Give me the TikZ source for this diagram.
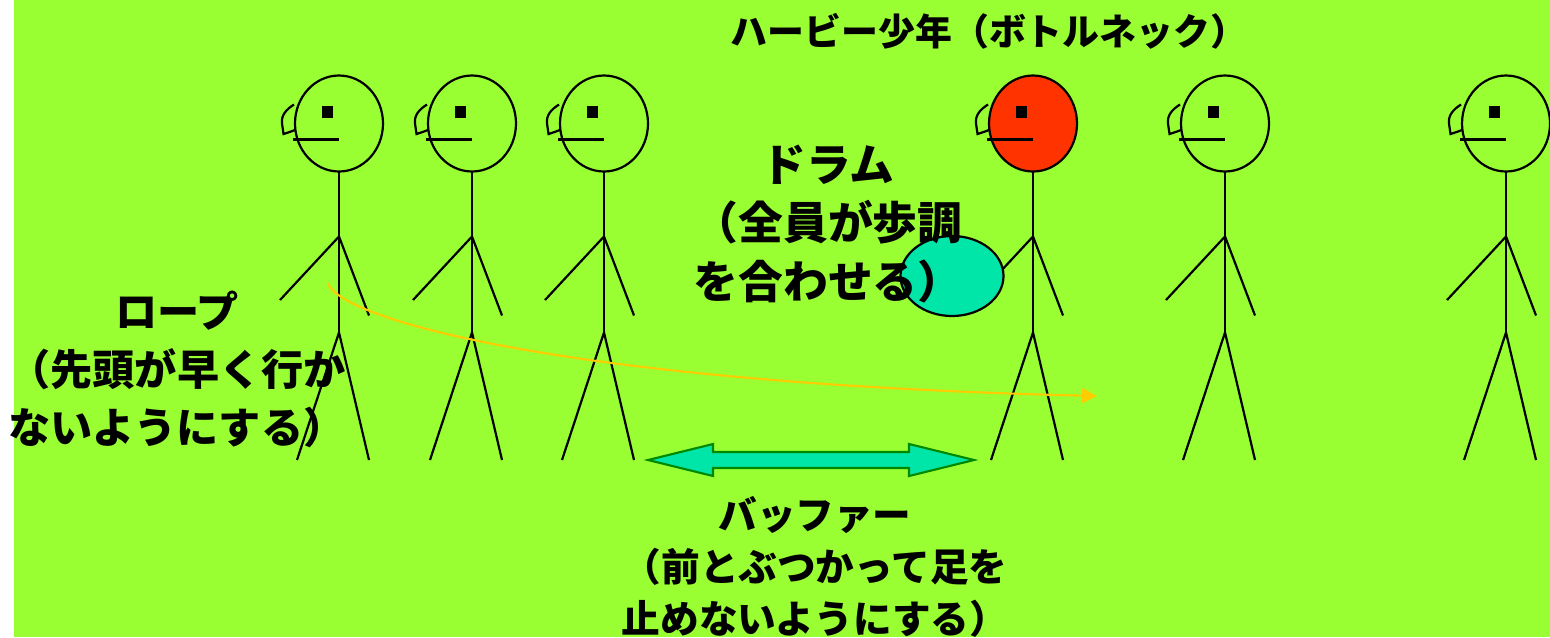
\documentclass[tikz,border=0pt]{standalone}
\usepackage{fontspec}
\newfontfamily\jpfont{Noto Sans CJK JP}
\usetikzlibrary{arrows.meta}

\definecolor{lawn}{RGB}{153,255,51}
\definecolor{drumfill}{RGB}{0,229,168}
\definecolor{herbie}{RGB}{255,51,0}
\definecolor{ropeline}{RGB}{255,204,0}
\definecolor{bufedge}{RGB}{0,136,0}

\tikzset{
  stick/.style={line width=1.25pt},
  jptext/.style={font=\jpfont\bfseries, align=center, inner sep=0pt},
  % one walker, origin at the centre of the head
  pics/walker/.style={code={
    \draw[stick,fill=#1] (0,0) ellipse (44 and 48);
    \fill (-17,-17.5) rectangle (-6,-6);
    \draw[stick] (-46,16) -- (0,16);
    \draw[stick] (-45,-19) .. controls (-53,-14) and (-58,-8) .. (-57,0)
      -- (-55.5,10.5) -- (-48,8) -- (-44,6.5);
    \draw[stick] (0,48) -- (0,209);
    \draw[stick] (-59,176.5) -- (0,113) -- (30,192);
    \draw[stick] (-42,336.5) -- (0,209) -- (30,336.5);
  }}
}

\begin{document}
\begin{tikzpicture}[x=0.02cm,y=-0.02cm]
\fill[white] (0,0) rectangle (1550,637);
\fill[lawn] (14,0) rectangle (1550,637);
\useasboundingbox (0,0) rectangle (1550,637);

% the troop
\foreach \px in {339,472,604,1225,1506}
  \pic at (\px,123.5) {walker=none};
\pic at (1033,123.5) {walker=herbie};

% drum
\draw[stick,fill=drumfill] (952,276) ellipse (51.5 and 40);

% rope
\coordinate (rope-start) at (328,283);
\coordinate (rope-end) at (1097,396);
\draw[ropeline,line width=1.2pt,-{Triangle[length=8.5pt,width=8.5pt]}]
  (rope-start) .. controls (338,318) and (560,383) .. (rope-end);

% buffer
\coordinate (buf-l) at (648,460);
\coordinate (buf-r) at (974,460);
\draw[bufedge,line width=1.2pt,fill=drumfill,line join=miter]
  (buf-l) -- (713,444) -- (713,452) -- (909,452) -- (909,444) -- (buf-r)
  -- (909,476) -- (909,468) -- (713,468) -- (713,476) -- cycle;

\node[jptext,font=\jpfont\bfseries\fontsize{21pt}{26pt}\selectfont] (title) at (989,31)
  {ハービー少年（ボトルネック）};
\node[jptext,font=\jpfont\bfseries\fontsize{25.5pt}{33.5pt}\selectfont] (drum) at (828,224)
  {ドラム\\（全員が歩調\\を合わせる）};
\node[jptext,font=\jpfont\bfseries\fontsize{24pt}{33pt}\selectfont] (rope) at (177,369)
  {ロープ\\（先頭が早く行か\\ないようにする）};
\node[jptext,font=\jpfont\bfseries\fontsize{22pt}{29.5pt}\selectfont] (buffer) at (815,567)
  {バッファー\\（前とぶつかって足を\\止めないようにする）};
\end{tikzpicture}
\end{document}
